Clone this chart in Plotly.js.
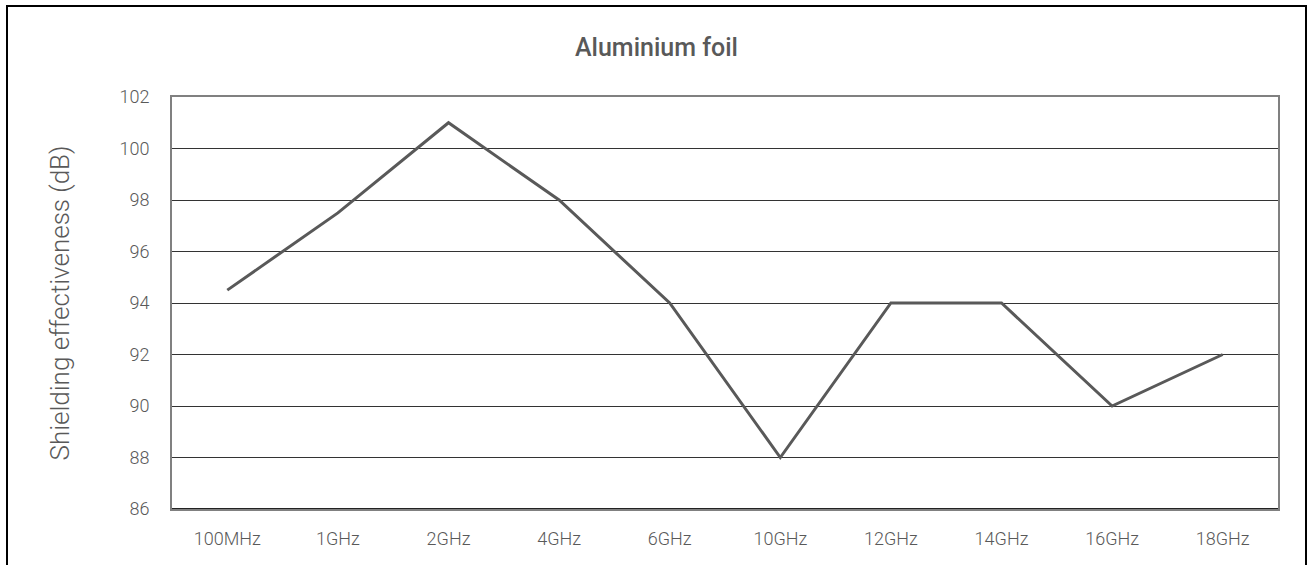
<!DOCTYPE html>
<html>
<head>
<meta charset="utf-8">
<script src="https://cdn.plot.ly/plotly-3.0.1.min.js"></script>
<style>
html,body{margin:0;padding:0;background:#fff;overflow:hidden;}
#chart{position:absolute;left:0;top:0;width:1313px;height:565px;}
#frame{position:absolute;left:6px;top:5px;width:1297px;height:570px;border:2px solid #000;pointer-events:none;}
</style>
</head>
<body>
<div id="chart"></div>
<div id="frame"></div>
<script>
const categories = ["100MHz","1GHz","2GHz","4GHz","6GHz","10GHz","12GHz","14GHz","16GHz","18GHz"];
const shielding = [94.5, 97.5, 101, 98, 94, 88, 94, 94, 90, 92];
const yTicks = [86, 88, 90, 92, 94, 96, 98, 100, 102];

const fontFam = "Roboto, 'Open Sans', sans-serif";
const trace = {
  x: categories,
  y: shielding,
  type: 'scatter',
  mode: 'lines',
  line: {color: '#595959', width: 3},
  hoverinfo: 'skip'
};
const layout = {
  width: 1313, height: 565,
  margin: {l: 172, r: 35, t: 97, b: 56},
  paper_bgcolor: '#fff', plot_bgcolor: '#fff',
  showlegend: false,
  title: {text: 'Aluminium foil', x: 0.5, xref: 'container', y: 0.917, yref: 'container', xanchor: 'center', yanchor: 'middle',
          font: {family: fontFam, size: 25, color: '#595959', weight: 500}},
  xaxis: {
    type: 'category',
    range: [-0.5, categories.length - 0.5],
    showgrid: false,
    showline: true, linecolor: '#808080', linewidth: 2, mirror: true,
    ticks: '', ticklabelstandoff: 12,
    tickfont: {family: fontFam, size: 18, color: '#595959', weight: 300},
    fixedrange: true
  },
  yaxis: {
    range: [86, 102],
    tickvals: yTicks,
    showgrid: true, gridcolor: '#333333', gridwidth: 1,
    zeroline: false,
    showline: true, linecolor: '#808080', linewidth: 2, mirror: true,
    ticks: '', ticklabelstandoff: 17,
    tickfont: {family: fontFam, size: 18, color: '#595959', weight: 300},
    title: {text: 'Shielding effectiveness (dB)', standoff: 42,
            font: {family: fontFam, size: 26, color: '#595959', weight: 300}},
    fixedrange: true
  },
  shapes: [{type: 'line', xref: 'paper', yref: 'y', x0: 0, x1: 1, y0: 86, y1: 86, line: {color: '#222', width: 2}}]
};
Plotly.newPlot('chart', [trace], layout, {displayModeBar: false, staticPlot: true});
</script>
</body>
</html>
